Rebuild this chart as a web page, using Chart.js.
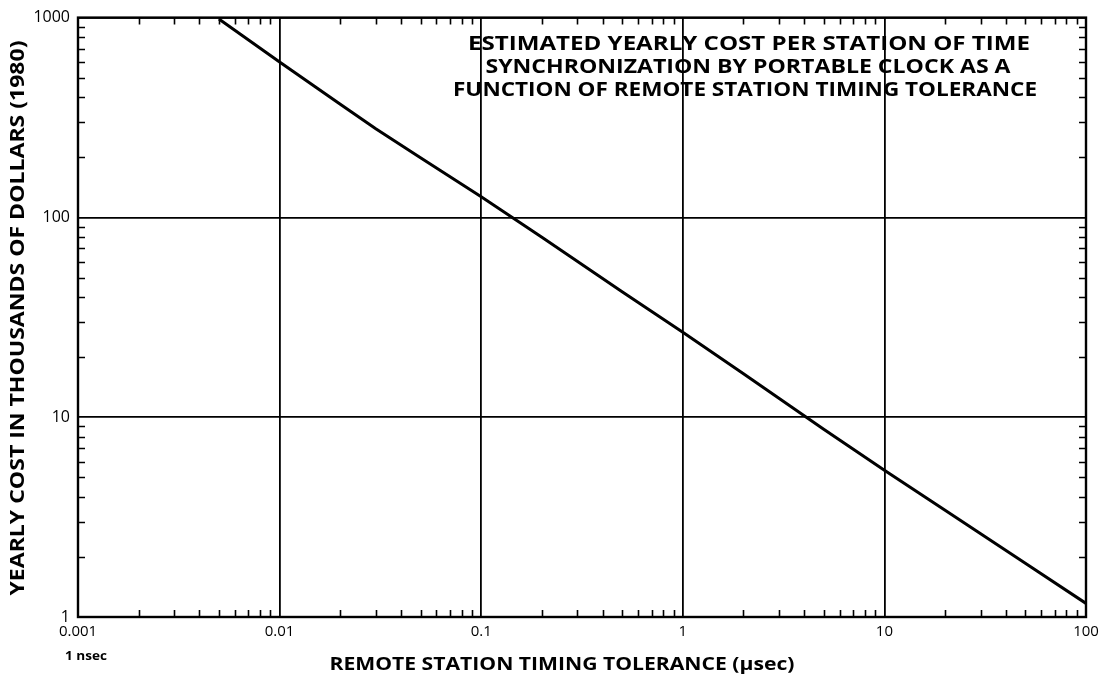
<!DOCTYPE html>
<html><head><meta charset="utf-8">
<script src="https://cdn.jsdelivr.net/npm/chart.js@4"></script>
<style>html,body{margin:0;padding:0;background:#fff}#wrap{width:1110px;height:683px}</style>
</head><body><div id="wrap"><canvas id="c" width="1110" height="683"></canvas></div>
<script>
// ---- data ----
const tolerance  = [0.005, 0.01, 0.02, 0.03, 0.05, 0.1, 0.2, 0.5, 1, 2, 5, 10, 20, 50, 100];
const yearlyCost = [985, 600, 368, 278, 199, 127, 79.5, 42.5, 26.6, 16.5, 8.7, 5.43, 3.42, 1.86, 1.17];
const xTickValues = [0.001, 0.01, 0.1, 1, 10, 100];
const xTickLabels = ['0.001', '0.01', '0.1', '1', '10', '100'];
const yTickValues = [1, 10, 100, 1000];
const yTickLabels = ['1', '10', '100', '1000'];
const annotationLines = [
  'ESTIMATED YEARLY COST PER STATION OF TIME',
  'SYNCHRONIZATION BY PORTABLE CLOCK AS A',
  'FUNCTION OF REMOTE STATION TIMING TOLERANCE'
];
const xTitle = 'REMOTE STATION TIMING TOLERANCE (\u03BCsec)';
const yTitle = 'YEARLY COST IN THOUSANDS OF DOLLARS (1980)';
const xSubLabel = '1 nsec';

function fitText(ctx, text, cx, cy, width, font, rot) {
  ctx.save();
  ctx.font = font;
  const w = ctx.measureText(text).width;
  ctx.translate(cx, cy);
  if (rot) ctx.rotate(rot);
  ctx.scale(width / w, 1);
  ctx.textAlign = 'center';
  ctx.textBaseline = 'middle';
  ctx.fillStyle = '#000';
  ctx.fillText(text, 0, 0);
  ctx.restore();
}

const framePlugin = {
  id: 'frame',
  afterDraw(chart) {
    const ctx = chart.ctx, a = chart.chartArea;
    const xs = chart.scales.x, ys = chart.scales.y;
    ctx.save();
    ctx.strokeStyle = '#000';
    ctx.lineWidth = 1.6;
    const L = 7;
    ctx.beginPath();
    for (let i = 0; i < xTickValues.length - 1; i++) {
      for (let k = 2; k <= 9; k++) {
        const px = Math.round(xs.getPixelForValue(xTickValues[i] * k)) + 0.5;
        ctx.moveTo(px, a.bottom); ctx.lineTo(px, a.bottom - L);
        ctx.moveTo(px, a.top); ctx.lineTo(px, a.top + L);
      }
    }
    for (let i = 0; i < yTickValues.length - 1; i++) {
      for (let k = 2; k <= 9; k++) {
        const py = Math.round(ys.getPixelForValue(yTickValues[i] * k)) + 0.5;
        ctx.moveTo(a.left, py); ctx.lineTo(a.left + L, py);
        ctx.moveTo(a.right, py); ctx.lineTo(a.right - L, py);
      }
    }
    ctx.stroke();
    ctx.lineWidth = 2.4;
    ctx.strokeRect(a.left, a.top, a.right - a.left, a.bottom - a.top);
    ctx.restore();

    const af = 'bold 19px "Open Sans"';
    fitText(ctx, annotationLines[0], 749, 45, 562, af);
    fitText(ctx, annotationLines[1], 748, 68, 525, af);
    fitText(ctx, annotationLines[2], 745, 91, 584, af);
    fitText(ctx, yTitle, 18, 318, 555, 'bold 20px "Open Sans"', -Math.PI / 2);
    fitText(ctx, xTitle, 562, 665, 465, 'bold 18px "Open Sans"');
    fitText(ctx, xSubLabel, 86, 657, 42, 'bold 12px "Open Sans"');
  }
};

new Chart(document.getElementById('c'), {
  type: 'scatter',
  data: {
    datasets: [{
      data: tolerance.map((x, i) => ({ x: x, y: yearlyCost[i] })),
      showLine: true,
      borderColor: '#000',
      borderWidth: 3,
      pointRadius: 0,
      tension: 0,
      fill: false
    }]
  },
  options: {
    responsive: false,
    animation: false,
    devicePixelRatio: 1,
    layout: { padding: { left: 0, right: 24, top: 16, bottom: 0 } },
    plugins: { legend: { display: false }, tooltip: { enabled: false }, title: { display: false } },
    scales: {
      x: {
        type: 'logarithmic',
        min: 0.001, max: 100,
        afterBuildTicks: s => { s.ticks = xTickValues.map(v => ({ value: v })); },
        afterFit: s => { s.height = 66; },
        ticks: {
          callback: v => { const i = xTickValues.indexOf(v); return i >= 0 ? xTickLabels[i] : ''; },
          color: '#000', font: { family: 'Open Sans', size: 15 }, padding: 6,
          maxRotation: 0, autoSkip: false
        },
        grid: { color: '#000', lineWidth: 1.8, drawTicks: false },
        border: { display: false }
      },
      y: {
        type: 'logarithmic',
        min: 1, max: 1000,
        afterBuildTicks: s => { s.ticks = yTickValues.map(v => ({ value: v })); },
        afterFit: s => { s.width = 78; },
        ticks: {
          callback: v => { const i = yTickValues.indexOf(v); return i >= 0 ? yTickLabels[i] : ''; },
          color: '#000', font: { family: 'Open Sans', size: 16 }, padding: 8,
          autoSkip: false
        },
        grid: { color: '#000', lineWidth: 1.8, drawTicks: false },
        border: { display: false }
      }
    }
  },
  plugins: [framePlugin]
});
</script>
</body></html>
